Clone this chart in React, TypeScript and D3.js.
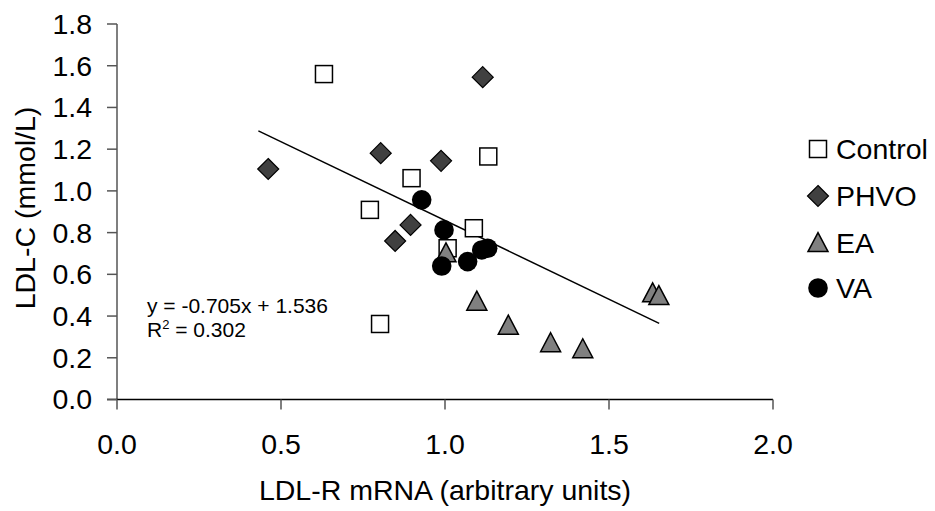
import React from "react";
import * as d3 from "d3";

const controlX = [0.631, 1.132, 0.898, 0.771, 1.088, 1.008, 0.802];
const controlY = [1.56, 1.165, 1.061, 0.909, 0.821, 0.725, 0.362];
const phvoX = [1.115, 0.804, 0.988, 0.895, 0.848, 0.461];
const phvoY = [1.545, 1.181, 1.144, 0.837, 0.76, 1.105];
const eaX = [1.003, 1.097, 1.193, 1.322, 1.42, 1.633, 1.652];
const eaY = [0.701, 0.469, 0.354, 0.27, 0.241, 0.509, 0.496];
const vaX = [0.929, 0.997, 0.99, 1.069, 1.112, 1.13];
const vaY = [0.957, 0.813, 0.64, 0.661, 0.717, 0.725];
const trendX = [0.431, 1.653];
const trendY = [1.288, 0.365];
const xTicks = [0, 0.5, 1.0, 1.5, 2.0];
const yTicks = [0, 0.2, 0.4, 0.6, 0.8, 1.0, 1.2, 1.4, 1.6, 1.8];
const legendLabels = ["Control", "PHVO", "EA", "VA"];

const FONT = "'Liberation Sans', Arial, sans-serif";
const FS = 28.5;

function Marker({ kind, x, y }: { kind: string; x: number; y: number }) {
  if (kind === "Control") {
    const s = 17;
    return <rect x={x - s / 2} y={y - s / 2} width={s} height={s} fill="#fff" stroke="#000" strokeWidth={1.5} />;
  }
  if (kind === "PHVO") {
    const r = 10.5;
    return <path d={`M${x},${y - r}L${x + r},${y}L${x},${y + r}L${x - r},${y}Z`} fill="#404040" stroke="#000" strokeWidth={1.2} />;
  }
  if (kind === "EA") {
    const h = 19, w = 20;
    return <path d={`M${x},${y - h * 0.55}L${x + w / 2},${y + h * 0.45}L${x - w / 2},${y + h * 0.45}Z`} fill="#808080" stroke="#000" strokeWidth={1.5} />;
  }
  return <circle cx={x} cy={y} r={9.8} fill="#000" />;
}

export default function App() {
  const x = d3.scaleLinear().domain([0, 2]).range([117, 773]);
  const y = d3.scaleLinear().domain([0, 1.8]).range([399.5, 24]);
  const fmt = d3.format(".1f");
  const series = [
    { name: "Control", xs: controlX, ys: controlY },
    { name: "PHVO", xs: phvoX, ys: phvoY },
    { name: "EA", xs: eaX, ys: eaY },
    { name: "VA", xs: vaX, ys: vaY },
  ];
  const line = d3.line<number>().x((d, i) => x(trendX[i])).y((d, i) => y(trendY[i]));
  const legendY = [149, 196, 243, 288];
  return (
    <svg width={935} height={511} style={{ position: "absolute", left: 0, top: 0, background: "#fff" }} fontFamily={FONT}>
      <line x1={x(0)} x2={x(0)} y1={y(1.8)} y2={y(0)} stroke="#555" strokeWidth={1.5} />
      <line x1={x(0) - 10} x2={x(2)} y1={y(0)} y2={y(0)} stroke="#000" strokeWidth={1.5} />
      {yTicks.map((t) => (
        <g key={"y" + t}>
          <line x1={x(0) - 10} x2={x(0)} y1={y(t)} y2={y(t)} stroke="#555" strokeWidth={1.5} />
          <text x={92} y={y(t)} dy="0.35em" textAnchor="end" fontSize={FS} fill="#000">{fmt(t)}</text>
        </g>
      ))}
      {xTicks.map((t) => (
        <g key={"x" + t}>
          <line x1={x(t)} x2={x(t)} y1={y(0)} y2={y(0) + 10} stroke="#555" strokeWidth={1.5} />
          <text x={x(t)} y={454} textAnchor="middle" fontSize={FS} fill="#000">{fmt(t)}</text>
        </g>
      ))}
      <text x={445} y={500} textAnchor="middle" fontSize={FS}>LDL-R mRNA (arbitrary units)</text>
      <text transform="translate(35,208) rotate(-90)" textAnchor="middle" fontSize={FS}>LDL-C (mmol/L)</text>
      <path d={line(trendX) || ""} fill="none" stroke="#000" strokeWidth={1.5} />
      <text x={147} y={313} fontSize={21}>y = -0.705x + 1.536</text>
      <text x={147} y={337} fontSize={21}>R<tspan dy={-8} fontSize={13}>2</tspan><tspan dy={8}> = 0.302</tspan></text>
      {series.map((s) => (
        <g key={s.name}>
          {s.xs.map((v, i) => (
            <Marker key={i} kind={s.name} x={x(v)} y={y(s.ys[i])} />
          ))}
        </g>
      ))}
      {legendLabels.map((l, i) => (
        <g key={l}>
          <Marker kind={l} x={818} y={legendY[i]} />
          <text x={836} y={legendY[i]} dy="0.36em" fontSize={FS}>{l}</text>
        </g>
      ))}
    </svg>
  );
}
